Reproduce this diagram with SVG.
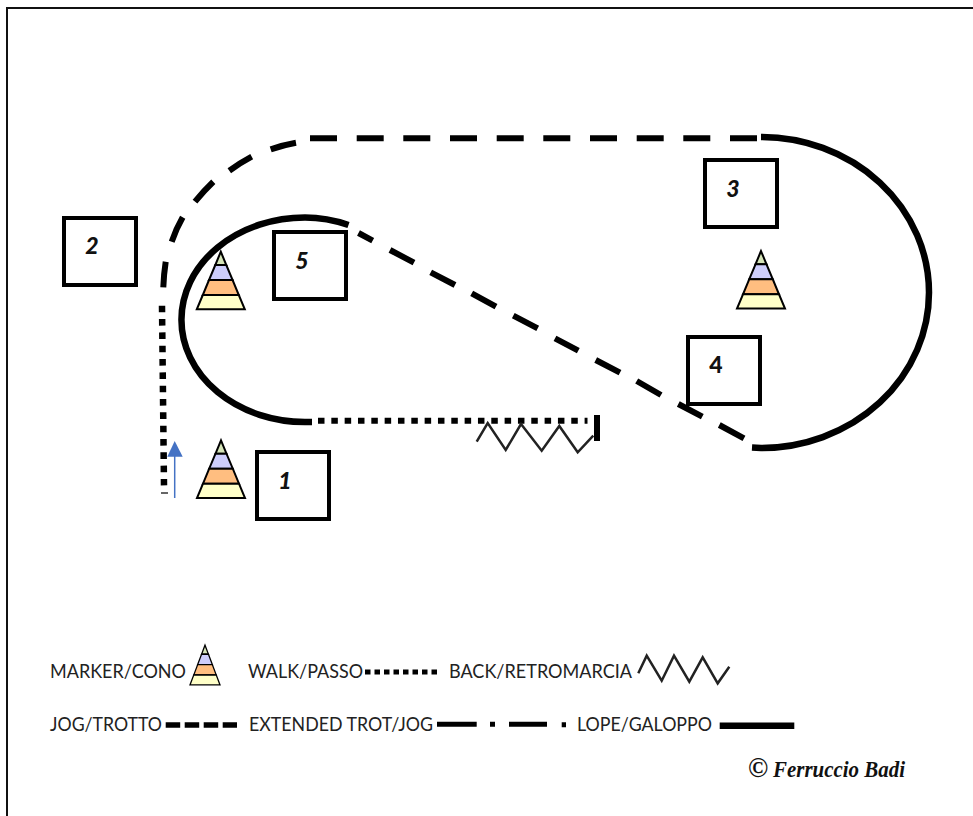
<svg xmlns="http://www.w3.org/2000/svg" width="973" height="816" viewBox="0 0 973 816">
<style>
.box{fill:#fff;stroke:#000;stroke-width:4}
.num{font:italic 900 23px "Lato","Liberation Sans",sans-serif;fill:#111;text-anchor:middle}
.solid{fill:none;stroke:#000;stroke-width:6.5}
.dash{fill:none;stroke:#000;stroke-width:6}
.leg{font:20px "Lato","Liberation Sans",sans-serif;fill:#222}
.zig{fill:none;stroke:#222;stroke-width:2.500}
.cl{stroke:#000;stroke-width:2;stroke-linejoin:miter}
</style>
<defs>
<g id="cone" class="cl">
<path d="M0 -28.800L-5.500 -15.500H5.500Z" fill="#d5e4b8"/>
<path d="M-5.500 -15.500L-11.800 -0.500H11.800L5.500 -15.500Z" fill="#cdcdfb"/>
<path d="M-11.800 -0.500L-18 14.500H18L11.800 -0.500Z" fill="#ffbe80"/>
<path d="M-18 14.500L-24 28.800H24L18 14.500Z" fill="#ffffc8"/>
</g>
</defs>
<rect width="973" height="816" fill="#fff"/>
<path d="M973 8H7V816" fill="none" stroke="#111" stroke-width="2"/>
<g id="connectors">
<path id="lope-right" class="solid" d="M761 137A168 155.500 0 0 1 761 448L752 447.500"/>
<path id="lope-left" class="solid" d="M348.500 225C334 220 320 217.500 305 217.500A123.500 102.200 0 0 0 305 422H312"/>
<g id="jog" class="dash">
<path d="M310 138.300H337M356.700 138.300H383.700M403.300 138.300H430.300M450 138.300H477M496.700 138.300H523.700M543.300 138.300H570.300M590 138.300H617M636.700 138.300H663.700M683.300 138.300H710.300M730 138.300H757"/>
<path d="M163.300 287.300Q163.800 274 165.700 261.700M171.700 241.700Q176 229 182.700 217.300M195 201.700Q203.500 191 213.300 181.700M229.300 170.700Q240 163 251.700 156.700M270.700 149.300Q283 145 296 142.700"/>
</g>
<path id="extended" class="dash" d="M358.500 233L372.700 240.700M390 250L414 262.700M430.700 272.300L455 285M471.700 293.300L496 306.700M513.300 315.700L537.700 328.300M555 338.300L578.300 350.700M595.700 360L620 372.700M636.700 381L661 395M678.300 404L702.300 416.700M719.300 425L744 438.300"/>
<path id="walk-start" d="M162 305.700L164 485.400" fill="none" stroke="#000" stroke-width="6.500" stroke-dasharray="6.600 6.730"/>
<path id="walk-tail" d="M161 493H168" fill="none" stroke="#333" stroke-width="1.500"/>
<path id="walk-end" d="M318 420.800H587.500" fill="none" stroke="#000" stroke-width="6" stroke-dasharray="6.500 6.830"/>
<path id="halt" d="M597 415V441" stroke="#000" stroke-width="6" fill="none"/>
<path id="back" class="zig" d="M476.700 441.700L487.700 423L505.700 450L521 424L541.700 450.700L559.300 426L577.700 452.300L593.300 435.700"/>
<g id="start-arrow">
<path d="M174.700 498V455" stroke="#4472c4" stroke-width="1.500" fill="none"/>
<path d="M167.300 456.700L174.700 441L182.700 456.700Z" fill="#4472c4"/>
</g>
</g>
<g id="node-1"><rect class="box" x="257" y="452" width="72" height="67"/><text class="num" x="285" y="488.500">1</text></g>
<g id="node-2"><rect class="box" x="64" y="218" width="72" height="67"/><text class="num" x="92" y="253.500">2</text></g>
<g id="node-3"><rect class="box" x="705" y="160" width="72" height="67"/><text class="num" x="733" y="196.500">3</text></g>
<g id="node-4"><rect class="box" x="688" y="337" width="72" height="67"/><text class="num" x="716" y="373" style="font-style:normal">4</text></g>
<g id="node-5"><rect class="box" x="274" y="232" width="72" height="67"/><text class="num" x="302" y="268.500">5</text></g>
<g id="cone-a"><use href="#cone" x="220.800" y="280.500"/></g>
<g id="cone-b"><use href="#cone" x="761" y="279.800"/></g>
<g id="cone-c"><use href="#cone" x="221" y="469.200"/></g>
<g id="legend">
<text class="leg" x="50" y="678" textLength="136" lengthAdjust="spacingAndGlyphs">MARKER/CONO</text>
<g transform="translate(205 665) scale(.625 .69)"><use href="#cone"/></g>
<text class="leg" x="248" y="678" textLength="115" lengthAdjust="spacingAndGlyphs">WALK/PASSO</text>
<path d="M365 672H437" fill="none" stroke="#000" stroke-width="5" stroke-dasharray="5.500 4"/>
<text class="leg" x="449" y="678" textLength="183" lengthAdjust="spacingAndGlyphs">BACK/RETROMARCIA</text>
<path class="zig" d="M638.300 673.300L646.700 655.700L661.700 680.700L674 655.700L689.300 681.700L702.700 657.300L717.700 683.300L729.300 666.700"/>
<text class="leg" x="50" y="731" textLength="112" lengthAdjust="spacingAndGlyphs">JOG/TROTTO</text>
<path d="M165.700 725H237" fill="none" stroke="#000" stroke-width="5.500" stroke-dasharray="14.500 4.500"/>
<text class="leg" x="249" y="731" textLength="184" lengthAdjust="spacingAndGlyphs">EXTENDED TROT/JOG</text>
<path d="M437 724.300H476.700M490 724.300H495M509 724.300H547M561.700 724.800H566" fill="none" stroke="#000" stroke-width="5"/>
<text class="leg" x="577" y="731" textLength="135" lengthAdjust="spacingAndGlyphs">LOPE/GALOPPO</text>
<path d="M719.700 725.700H794.300" fill="none" stroke="#000" stroke-width="6.500"/>
<text y="777" font-family="Liberation Serif, serif" font-weight="700" fill="#111"><tspan x="748" font-size="27">©</tspan><tspan x="773" font-size="24" font-style="italic" textLength="132" lengthAdjust="spacingAndGlyphs">Ferruccio Badi</tspan></text>
</g>
</svg>
